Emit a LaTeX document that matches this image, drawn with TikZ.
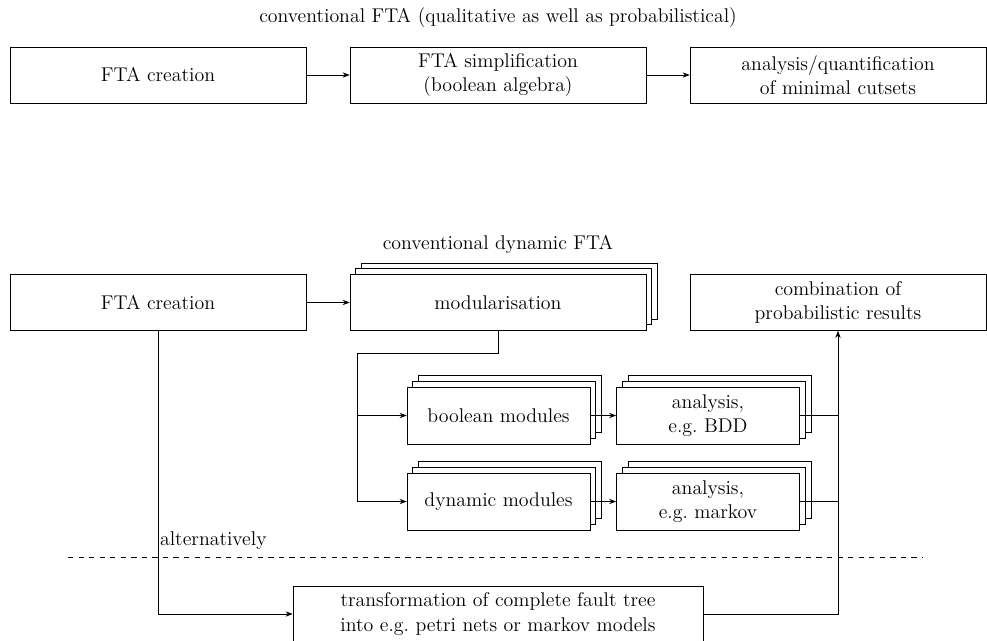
\documentclass[tikz,border=0pt]{standalone}
\usepackage{tikz}
\usetikzlibrary{calc,positioning,shadows,arrows.meta}

\begin{document}
\begin{tikzpicture}[x=0.02cm, y=-0.02cm, >={Stealth[length=4pt]}, font=\fontsize{11.3}{13.8}\selectfont]
                \tikzset{
                stepbox/.style={draw, fill=white, minimum width=5.92cm, minimum height=1.12cm, align=center},
                modbox/.style={stepbox, minimum width=3.66cm, minimum height=1.14cm},
                stack/.style={double copy shadow={shadow xshift=3.3pt, shadow yshift=3.3pt}}
                }
                \useasboundingbox (0,0) rectangle (987,640);
                % conventional FTA
                \node (title) at (498,18) {conventional FTA (qualitative as well as probabilistical)};
                \node[stepbox] (create1) at (158,75) {FTA creation};
                \node[stepbox] (simpl) at (498,75) {FTA simplification\\(boolean algebra)};
                \node[stepbox] (cutsets) at (838,75) {analysis/quantification\\of minimal cutsets};
                \draw[->] (create1) -- (simpl);
                \draw[->] (simpl) -- (cutsets);
                % dynamic FTA
                \node (dyntitle) at (498,244) {conventional dynamic FTA};
                \node[stepbox] (create2) at (158,302.5) {FTA creation};
                \node[stepbox, stack] (modul) at (498,302.5) {modularisation};
                \node[stepbox] (combi) at (838,302.5) {combination of\\probabilistic results};
                \node[modbox, stack] (boolmod) at (498.5,415.5) {boolean modules};
                \node[modbox, stack] (bdd) at (708,415.5) {analysis,\\e.g.~BDD};
                \node[modbox, stack] (dynmod) at (498.5,501.5) {dynamic modules};
                \node[modbox, stack] (markov) at (708,501.5) {analysis,\\e.g.~markov};
                \draw[->] (create2) -- (modul);
                \coordinate (split) at (357,353);
                \draw (modul.south) |- (split);
                \draw[->] (split) |- (boolmod.west);
                \draw[->] (split) |- (dynmod.west);
                \draw[->] (boolmod.east) -- (bdd.west);
                \draw[->] (dynmod.east) -- (markov.west);
                \draw (bdd.east) -- (bdd.east -| combi.south);
                \draw (markov.east) -- (markov.east -| combi.south);
                % alternative
                \draw[dashed] (68,557) -- (922,557);
                \node[stepbox, minimum width=8.2cm] (trans) at (498,614) {transformation of complete fault tree\\into e.g.~petri nets or markov models};
                \draw[->] (create2.south) |- (trans.west);
                \node[anchor=west, inner sep=1pt] (alt) at (158,541) {alternatively};
                \draw[->] (trans.east) -| (combi.south);
\end{tikzpicture}
\end{document}
